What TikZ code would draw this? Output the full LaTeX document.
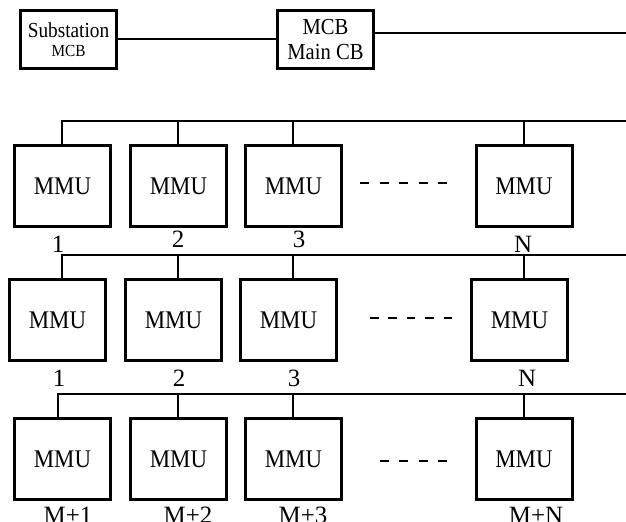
\documentclass[tikz,border=0pt]{standalone}
\usepackage{fontspec}
\setmainfont{Liberation Serif}
\newcommand{\narrow}[1]{\scalebox{0.9}[1]{#1}}
\begin{document}
\begin{tikzpicture}[x=1bp,y=-1bp,
  box/.style={draw,line width=3bp,minimum width=96bp,minimum height=81bp,inner sep=0pt,font=\fontsize{25.5}{28}\selectfont},
  topbox/.style={draw,line width=3bp,minimum width=96bp,minimum height=58bp,inner sep=0pt,align=center},
  wire/.style={line width=2.8bp},
  lbl/.style={font=\fontsize{25}{28}\selectfont,inner sep=0pt},
  dots/.style={line width=2.9bp,dash pattern=on 9bp off 10.5bp}]
\useasboundingbox (0,0) rectangle (626,522);
% top row
\node[topbox,font=\fontsize{21.5}{19.5}\selectfont] (sub) at (68.5,39.5) {{\fontsize{21.5}{19.5}\selectfont\narrow{Substation}}\\{\fontsize{17}{19.5}\selectfont\narrow{MCB}}};
\node[topbox,font=\fontsize{23}{25}\selectfont] (mcb) at (325.5,39.5) {\narrow{MCB}\\\narrow{Main CB}};
\coordinate (e0) at (626,33);
\draw[wire] (sub.east |- 0,39) -- (mcb.west |- 0,39);
\draw[wire] (mcb.east |- e0) -- (e0);
% row 1
\node[box] (a1) at (62.5,186) {\narrow{MMU}};
\node[box] (a2) at (178.5,186) {\narrow{MMU}};
\node[box] (a3) at (293.5,186) {\narrow{MMU}};
\node[box] (a4) at (524,186) {\narrow{MMU}};
\coordinate (ta1) at (62,121);
\coordinate (ta2) at (178,121);
\coordinate (ta3) at (293,121);
\coordinate (ta4) at (524,121);
\coordinate (ea) at (626,121);
\draw[wire] (ta1 |- a1.north) -- (ta1) -- (ea);
\draw[wire] (ta2) -- (ta2 |- a2.north);
\draw[wire] (ta3) -- (ta3 |- a3.north);
\draw[wire] (ta4) -- (ta4 |- a4.north);
\coordinate (da1) at (360,183);
\coordinate (da2) at (448,183);
\draw[dots] (da1) -- (da2);
\node[lbl] (la1) at (58,244) {1};
\node[lbl] (la2) at (178,239) {2};
\node[lbl] (la3) at (299,239) {3};
\node[lbl] (la4) at (523,244) {N};
% row 2
\node[box] (b1) at (57.5,320) {\narrow{MMU}};
\node[box] (b2) at (173.5,320) {\narrow{MMU}};
\node[box] (b3) at (288.5,320) {\narrow{MMU}};
\node[box] (b4) at (519.5,320) {\narrow{MMU}};
\coordinate (tb1) at (62,255);
\coordinate (tb2) at (178,255);
\coordinate (tb3) at (293,255);
\coordinate (tb4) at (524,255);
\coordinate (eb) at (626,255);
\draw[wire] (tb1 |- b1.north) -- (tb1) -- (eb);
\draw[wire] (tb2) -- (tb2 |- b2.north);
\draw[wire] (tb3) -- (tb3 |- b3.north);
\draw[wire] (tb4) -- (tb4 |- b4.north);
\coordinate (db1) at (370,318);
\coordinate (db2) at (452,318);
\draw[dots,dash pattern=on 8.5bp off 9.9bp] (db1) -- (db2);
\node[lbl] (lb1) at (59,378) {1};
\node[lbl] (lb2) at (179,378) {2};
\node[lbl] (lb3) at (294,378) {3};
\node[lbl] (lb4) at (527,378) {N};
% row 3
\node[box] (c1) at (62.5,459) {\narrow{MMU}};
\node[box] (c2) at (178.5,459) {\narrow{MMU}};
\node[box] (c3) at (293.5,459) {\narrow{MMU}};
\node[box] (c4) at (524,459) {\narrow{MMU}};
\coordinate (tc1) at (58,394);
\coordinate (tc2) at (178,394);
\coordinate (tc3) at (293,394);
\coordinate (tc4) at (524,394);
\coordinate (ec) at (626,394);
\draw[wire] (tc1 |- c1.north) -- (tc1) -- (ec);
\draw[wire] (tc2) -- (tc2 |- c2.north);
\draw[wire] (tc3) -- (tc3 |- c3.north);
\draw[wire] (tc4) -- (tc4 |- c4.north);
\coordinate (dc1) at (380,461);
\coordinate (dc2) at (447,461);
\draw[dots,dash pattern=on 9bp off 10.3bp] (dc1) -- (dc2);
\node[lbl,anchor=north] (lc1) at (68,507) {M+1};
\node[lbl,anchor=north] (lc2) at (188,507) {M+2};
\node[lbl,anchor=north] (lc3) at (303,507) {M+3};
\node[lbl,anchor=north] (lc4) at (536,507) {M+N};
\end{tikzpicture}
\end{document}
